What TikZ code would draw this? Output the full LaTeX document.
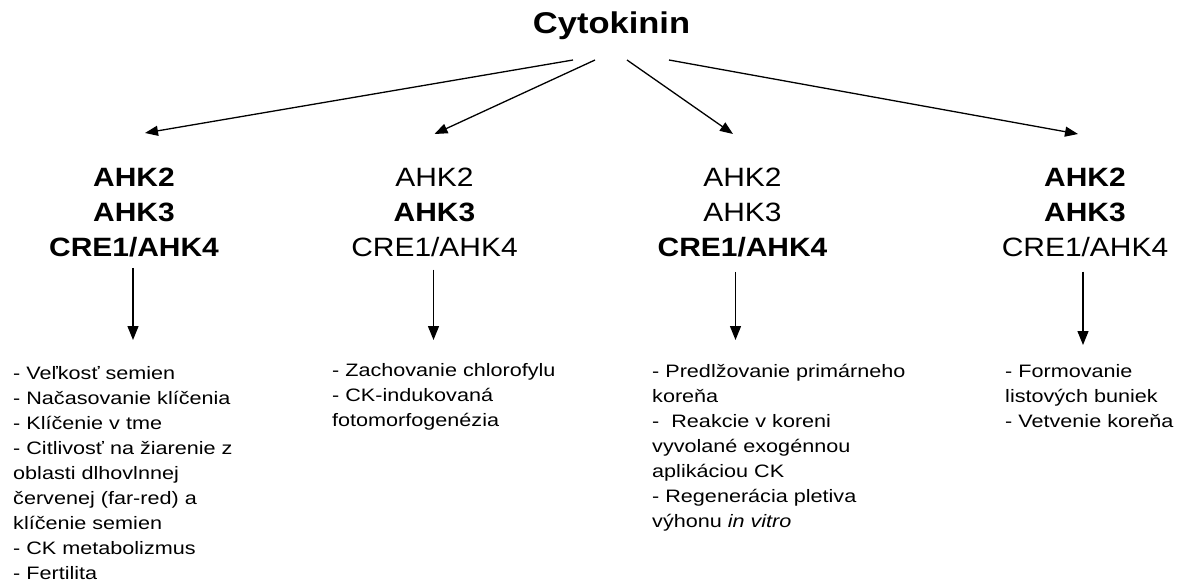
\documentclass[tikz,border=0pt]{standalone}
\usepackage{fontspec}
\setmainfont{Liberation Sans}
\newfontfamily\titlefont[FakeStretch=1.15]{Liberation Sans}
\newfontfamily\hdfont[FakeStretch=1.13]{Liberation Sans}
\newfontfamily\bodyfont[FakeStretch=1.2]{Liberation Sans}
\usetikzlibrary{arrows.meta,calc}
\tikzset{
  title/.style={inner sep=0pt, anchor=base, font=\titlefont\bfseries\fontsize{30}{36}\selectfont},
  head/.style={inner sep=0pt, anchor=north, align=center, font=\hdfont\fontsize{26.5}{35}\selectfont},
  body/.style={inner sep=0pt, anchor=north west, align=left, font=\bodyfont\fontsize{18}{25}\selectfont},
  arr/.style={line width=1.3pt, -{Triangle[length=13pt,width=10pt]}},
  varr/.style={line width=1.3pt, -{Triangle[length=14pt,width=11pt]}}
}
\begin{document}
\begin{tikzpicture}[x=1pt,y=-1pt]
\useasboundingbox[fill=white] (0,0) rectangle (1186,584);
\node[title] (cyto) at (611.5,33) {Cytokinin};

\node[head] (h1) at (134,168) {\bfseries AHK2\\\bfseries AHK3\\\bfseries CRE1/AHK4};
\node[head] (h2) at (434.5,168) {AHK2\\\bfseries AHK3\\CRE1/AHK4};
\node[head] (h3) at (742.5,168) {AHK2\\AHK3\\\bfseries CRE1/AHK4};
\node[head] (h4) at (1085,168) {\bfseries AHK2\\\bfseries AHK3\\CRE1/AHK4};

\node[body] (t1) at (13,366) {- Veľkosť semien\\- Načasovanie klíčenia\\- Klíčenie v tme\\- Citlivosť na žiarenie z\\oblasti dlhovlnnej\\červenej (far-red) a\\klíčenie semien\\- CK metabolizmus\\- Fertilita};
\node[body] (t2) at (332,363) {- Zachovanie chlorofylu\\- CK-indukovaná\\fotomorfogenézia};
\node[body] (t3) at (652,364) {- Predlžovanie primárneho\\koreňa\\-\ \ Reakcie v koreni\\vyvolané exogénnou\\aplikáciou CK\\- Regenerácia pletiva\\výhonu \textit{in vitro}};
\node[body] (t4) at (1005,364.6) {- Formovanie\\listových buniek\\- Vetvenie koreňa};

% top arrows
\coordinate (s1) at ($(cyto.base)+(-38.5,27)$);
\coordinate (s2) at ($(cyto.base)+(-16.5,27)$);
\coordinate (s3) at ($(cyto.base)+(15.5,27)$);
\coordinate (s4) at ($(cyto.base)+(57.5,27)$);
\coordinate (e1) at ($(h1.north)+(11,-35)$);
\coordinate (e2) at ($(h2.north)+(0,-34)$);
\coordinate (e3) at ($(h3.north)+(-9.5,-34)$);
\coordinate (e4) at ($(h4.north)+(-7,-34)$);
\draw[arr] (s1) -- (e1);
\draw[arr] (s2) -- (e2);
\draw[arr] (s3) -- (e3);
\draw[arr] (s4) -- (e4);

% vertical arrows
\coordinate (v1) at ($(h1.south)+(-1,10.5)$);
\coordinate (v2) at ($(h2.south)+(-1,12.5)$);
\coordinate (v3) at ($(h3.south)+(-7,14.5)$);
\coordinate (v4) at ($(h4.south)+(-2,14.5)$);
\coordinate (w1) at ($(t1.north)+(0,-26)$);
\coordinate (w2) at ($(t2.north)+(0,-23)$);
\coordinate (w3) at ($(t3.north)+(0,-24)$);
\coordinate (w4) at ($(t4.north)+(0,-19.6)$);
\draw[varr] (v1) -- (v1 |- w1);
\draw[varr] (v2) -- (v2 |- w2);
\draw[varr] (v3) -- (v3 |- w3);
\draw[varr] (v4) -- (v4 |- w4);
\end{tikzpicture}
\end{document}
